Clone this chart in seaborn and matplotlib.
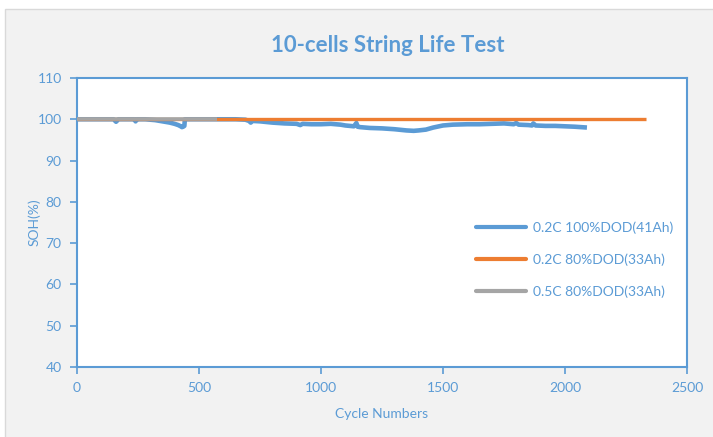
import numpy as np
import pandas as pd
import matplotlib
matplotlib.use("Agg")
import matplotlib.pyplot as plt
import seaborn as sns
from matplotlib.patches import Rectangle
from matplotlib.lines import Line2D

# ---- data ----
series_names = ["0.2C 100%DOD(41Ah)", "0.2C 80%DOD(33Ah)", "0.5C 80%DOD(33Ah)"]
blue_cycles = [0, 50, 100, 150, 160, 170, 200, 235, 240, 245, 280, 320, 350, 380, 400, 415, 425, 430, 435, 440, 442,
               500, 550, 600, 650, 690, 705, 712, 720, 750, 800, 850, 900, 915, 925, 960, 1000, 1040, 1080, 1100,
               1135, 1145, 1150, 1160, 1200, 1250, 1300, 1350, 1380, 1400, 1430, 1460, 1500, 1540, 1600, 1650,
               1700, 1750, 1790, 1800, 1810, 1850, 1865, 1870, 1880, 1920, 1960, 2000, 2040, 2090]
blue_soh = [100.0, 100.0, 100.0, 100.0, 99.4, 100.0, 100.0, 100.0, 99.5, 100.0, 100.0, 99.8, 99.5, 99.2, 98.9, 98.6,
            98.3, 98.1, 98.2, 98.4, 100.0,
            100.0, 100.0, 100.0, 100.0, 99.9, 99.6, 99.2, 99.6, 99.5, 99.2, 99.0, 98.9, 98.6, 98.9, 98.8, 98.8,
            98.9, 98.7, 98.5, 98.3, 99.1, 98.2, 98.1, 97.9, 97.8, 97.6, 97.3, 97.2, 97.3, 97.5, 98.0, 98.5,
            98.7, 98.8, 98.8, 98.9, 99.0, 98.8, 99.1, 98.7, 98.6, 98.5, 99.0, 98.5, 98.4, 98.4, 98.3, 98.2, 98.0]
orange_cycles = [0, 2330]
orange_soh = [100.0, 100.0]
gray_cycles = [0, 575]
gray_soh = [100.0, 100.0]

x_ticks = [0, 500, 1000, 1500, 2000, 2500]
y_ticks = [40, 50, 60, 70, 80, 90, 100, 110]
title = "10-cells String Life Test"
x_label = "Cycle Numbers"
y_label = "SOH(%)"

df = pd.concat([
    pd.DataFrame({"cycle": blue_cycles, "soh": blue_soh, "series": series_names[0]}),
    pd.DataFrame({"cycle": orange_cycles, "soh": orange_soh, "series": series_names[1]}),
    pd.DataFrame({"cycle": gray_cycles, "soh": gray_soh, "series": series_names[2]}),
], ignore_index=True)

BLUE = "#5b9bd5"
ORANGE = "#ed7d31"
GRAY = "#a5a5a5"
palette = {series_names[0]: BLUE, series_names[1]: ORANGE, series_names[2]: GRAY}

sns.set_style("white")
plt.rcParams["font.family"] = ["Lato", "DejaVu Sans"]

fig = plt.figure(figsize=(7.13, 4.37), dpi=100)
fig.patch.set_facecolor("white")
fig.add_artist(Rectangle((5 / 713, -0.01), 1.0, 1 - 9 / 437 + 0.01, transform=fig.transFigure,
                         facecolor="#f2f2f2", edgecolor="#d9d9d9", linewidth=1.0, zorder=0))

ax = fig.add_axes([77 / 713, 1 - 367 / 437, (687 - 77) / 713, (367 - 78) / 437])
ax.set_facecolor("white")

sns.lineplot(data=df, x="cycle", y="soh", hue="series", palette=palette,
             hue_order=series_names, estimator=None, sort=False, ax=ax, legend=False)
widths = {BLUE: 3.3, ORANGE: 2.4, GRAY: 2.6}
zorders = {BLUE: 2, ORANGE: 3, GRAY: 4}
for line in ax.get_lines():
    c = matplotlib.colors.to_hex(line.get_color())
    line.set_linewidth(widths.get(c, 2.5))
    line.set_zorder(zorders.get(c, 2))
    line.set_solid_capstyle("butt")

ax.set_xlim(0, 2500)
ax.set_ylim(40, 110)
ax.set_xticks(x_ticks)
ax.set_yticks(y_ticks)
for s in ax.spines.values():
    s.set_color(BLUE)
    s.set_linewidth(1.5)
ax.tick_params(axis="both", direction="out", length=5, width=1.2, color=BLUE,
               labelcolor=BLUE, labelsize=10, left=True, bottom=True, pad=6)

ax.set_xlabel(x_label, color=BLUE, fontsize=10, labelpad=10)
ax.set_ylabel(y_label, color=BLUE, fontsize=10, labelpad=-2.5)
fig.text(0.544, 1 - 45 / 437, title, ha="center", va="center", color=BLUE,
         fontsize=16, fontweight="bold")

handles = [Line2D([0], [0], color=palette[n], lw=3.0) for n in series_names]
leg = ax.legend(handles, series_names, loc="center left", bbox_to_anchor=(0.634, 0.37),
                frameon=False, fontsize=10, labelcolor=BLUE, handlelength=3.6,
                handletextpad=0.5, labelspacing=1.4)

fig.savefig("out.png", dpi=100, facecolor=fig.get_facecolor())
